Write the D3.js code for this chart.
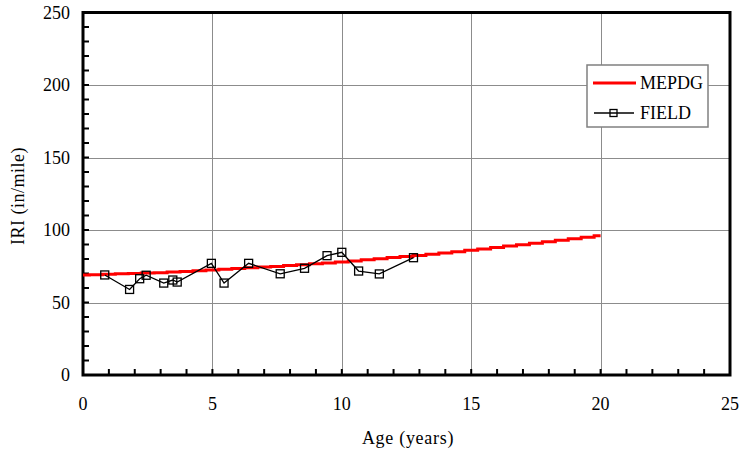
<!DOCTYPE html>
<html><head><meta charset="utf-8">
<script src="https://cdn.jsdelivr.net/npm/d3@7"></script>
<style>body{margin:0;background:#fff}</style>
</head><body>
<script>
const xTicks = [0,5,10,15,20,25];
const yTicks = [0,50,100,150,200,250];
const mepdgAge = [0,0.5,1,1.5,2,2.5,3,3.5,4,4.5,5,5.5,6,6.5,7,7.5,8,8.5,9,9.5,10,10.5,11,11.5,12,12.5,13,13.5,14,14.5,15,15.5,16,16.5,17,17.5,18,18.5,19,19.5,20];
const mepdgIRI = [69,69.2,69.5,69.8,70,70.3,70.6,71,71.4,71.9,72.4,72.9,73.4,73.9,74.4,74.9,75.5,76.1,76.7,77.3,78,78.7,79.4,80.2,81,81.7,82.5,83.3,84.1,85,86,86.9,87.9,88.9,89.9,90.9,91.9,92.9,94,95,96];
const fieldAge = [0.84,1.8,2.19,2.44,3.12,3.47,3.64,4.96,5.45,6.4,7.62,8.56,9.43,10.0,10.65,11.45,12.77];
const fieldIRI = [69,59,66.4,68.8,63.4,65.5,64.1,77,63.4,77,69.8,73.6,82.3,84.6,71.7,69.7,80.9];
const seriesNames = ["MEPDG","FIELD"];

const W=740,H=453;
const svg=d3.select("body").append("svg").attr("width",W).attr("height",H);
const x=d3.scaleLinear().domain([0,25]).range([83,730]);
const y=d3.scaleLinear().domain([0,250]).range([375,12.5]);
const font="'Liberation Serif','Times New Roman',serif";

// grid
svg.append("g").selectAll("line").data(xTicks.slice(1,-1)).join("line")
 .attr("x1",d=>Math.round(x(d))+0.5).attr("x2",d=>Math.round(x(d))+0.5)
 .attr("y1",y(250)).attr("y2",y(0)).attr("stroke","#8c8c8c").attr("stroke-width",1);
svg.append("g").selectAll("line").data(yTicks.slice(1,-1)).join("line")
 .attr("y1",d=>Math.round(y(d))+0.5).attr("y2",d=>Math.round(y(d))+0.5)
 .attr("x1",x(0)).attr("x2",x(25)).attr("stroke","#8c8c8c").attr("stroke-width",1);

// minor ticks inward
const yMinor=d3.range(0,251,10);
svg.append("g").selectAll("line").data(yMinor).join("line")
 .attr("x1",x(0)).attr("x2",x(0)+6).attr("y1",d=>y(d)).attr("y2",d=>y(d))
 .attr("stroke","#000").attr("stroke-width",2);
const xMinor=d3.range(0,26,1);
svg.append("g").selectAll("line").data(xMinor).join("line")
 .attr("x1",d=>x(d)).attr("x2",d=>x(d)).attr("y1",y(0)).attr("y2",y(0)-6)
 .attr("stroke","#000").attr("stroke-width",2);

// frame
svg.append("rect").attr("x",x(0)).attr("y",y(250)).attr("width",x(25)-x(0)).attr("height",y(0)-y(250))
 .attr("fill","none").attr("stroke","#000").attr("stroke-width",3);

// tick labels
svg.append("g").selectAll("text").data(yTicks).join("text")
 .attr("x",70).attr("y",d=>y(d)).attr("dy","0.35em").attr("text-anchor","end")
 .attr("font-family",font).attr("font-size",18).text(d=>d);
svg.append("g").selectAll("text").data(xTicks).join("text")
 .attr("x",d=>x(d)).attr("y",410).attr("text-anchor","middle")
 .attr("font-family",font).attr("font-size",18).text(d=>d);

// axis titles
svg.append("text").attr("x",408).attr("y",444).attr("text-anchor","middle")
 .attr("font-family",font).attr("font-size",18).attr("letter-spacing","0.7px").text("Age (years)");
svg.append("text").attr("transform","translate(24,196) rotate(-90)").attr("text-anchor","middle")
 .attr("font-family",font).attr("font-size",18).attr("letter-spacing","0.5px").text("IRI (in/mile)");

// MEPDG
const mep=mepdgAge.map((a,i)=>[a,mepdgIRI[i]]);
svg.append("path").datum(mep).attr("fill","none").attr("stroke","#ff0000").attr("stroke-width",3)
 .attr("d",d3.line().x(d=>x(d[0])).y(d=>y(d[1])).curve(d3.curveStep));

// FIELD
const fld=fieldAge.map((a,i)=>[a,fieldIRI[i]]);
svg.append("path").datum(fld).attr("fill","none").attr("stroke","#000").attr("stroke-width",1.3)
 .attr("d",d3.line().x(d=>x(d[0])).y(d=>y(d[1])));
svg.append("g").selectAll("rect").data(fld).join("rect")
 .attr("x",d=>x(d[0])-4).attr("y",d=>y(d[1])-4).attr("width",8).attr("height",8)
 .attr("fill","none").attr("stroke","#000").attr("stroke-width",1.3);

// legend
const lg=svg.append("g");
lg.append("rect").attr("x",587).attr("y",65).attr("width",121).attr("height",62)
 .attr("fill","#fff").attr("stroke","#808080").attr("stroke-width",1.5);
lg.append("line").attr("x1",593).attr("x2",636).attr("y1",83).attr("y2",83).attr("stroke","#ff0000").attr("stroke-width",3);
lg.append("text").attr("x",640).attr("y",83).attr("dy","0.35em").attr("font-family",font).attr("font-size",18).text(seriesNames[0]);
lg.append("line").attr("x1",594).attr("x2",634).attr("y1",113).attr("y2",113).attr("stroke","#000").attr("stroke-width",1.3);
lg.append("rect").attr("x",610).attr("y",109.5).attr("width",7).attr("height",7).attr("fill","none").attr("stroke","#000").attr("stroke-width",1.3);
lg.append("text").attr("x",640).attr("y",113).attr("dy","0.35em").attr("font-family",font).attr("font-size",18).text(seriesNames[1]);
</script>
</body></html>
